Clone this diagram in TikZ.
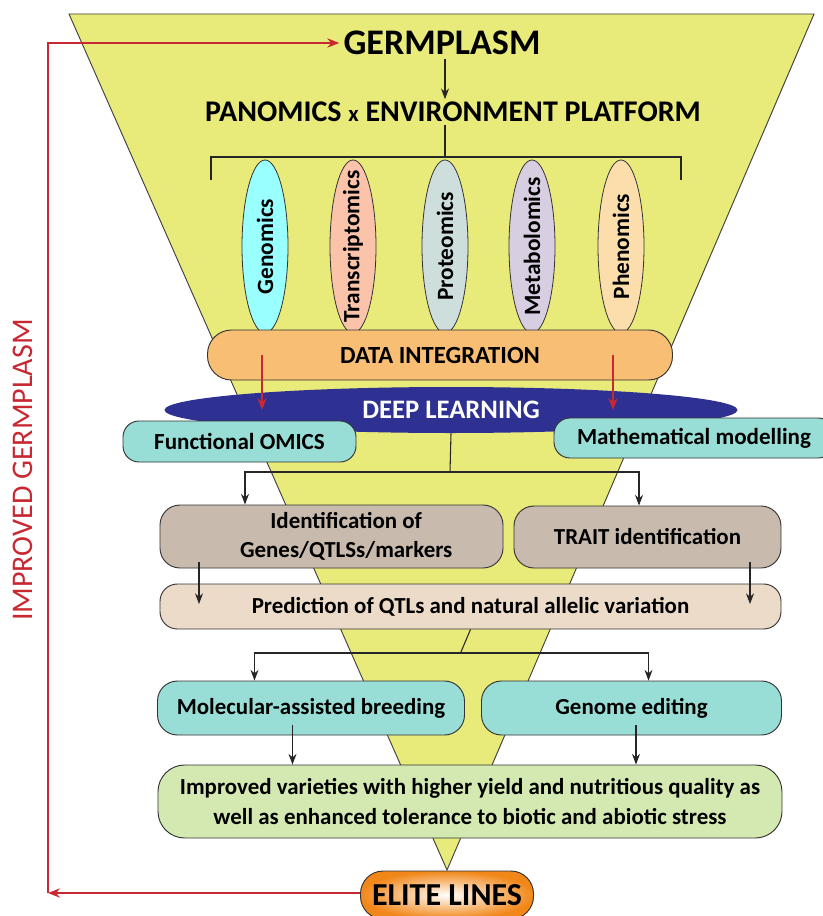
\documentclass[tikz,border=0pt]{standalone}
\usepackage{fontspec}
\setmainfont{Carlito}
\usetikzlibrary{arrows.meta,shapes.geometric,calc}
\definecolor{myyellow}{RGB}{232,234,122}
\definecolor{mycyan}{RGB}{153,255,255}
\definecolor{mysalmon}{RGB}{250,195,170}
\definecolor{mygrey}{RGB}{205,222,220}
\definecolor{mylilac}{RGB}{216,206,226}
\definecolor{mypeach}{RGB}{252,222,172}
\definecolor{myorange}{RGB}{248,190,115}
\definecolor{myblue}{RGB}{46,49,146}
\definecolor{myteal}{RGB}{152,221,214}
\definecolor{mytaupe}{RGB}{200,186,172}
\definecolor{mybeige}{RGB}{236,219,200}
\definecolor{mylime}{RGB}{212,232,178}
\definecolor{myelite}{RGB}{242,135,25}
\definecolor{myred}{RGB}{200,40,50}

\tikzset{
  omics/.style={ellipse, draw=black!80, line width=0.6pt, inner sep=0pt,
    minimum width=34.5pt, minimum height=129.75pt},
  omicstext/.style={rotate=90, inner sep=0pt, font=\bfseries\fontsize{17.5}{20}\selectfont},
  box/.style={draw=black!80, line width=0.7pt, rounded corners=15pt, align=center,
    font=\bfseries\fontsize{17.2}{22}\selectfont},
  arr/.style={-{Stealth[length=8pt,width=6pt]}, black!85, line width=0.8pt},
  redarr/.style={-{Stealth[length=9pt,width=7pt]}, myred, line width=1pt}
}

\begin{document}
\begin{tikzpicture}[x=0.75pt,y=-0.75pt]
\useasboundingbox (0,0) rectangle (823,916);

\fill[myyellow, draw=black!75, line width=0.7pt] (69,14) -- (814,14) -- (447,870) -- cycle;

\node[font=\bfseries\fontsize{27}{30}\selectfont, inner sep=3pt] (germ) at (442,43) {GERMPLASM};
\node[font=\bfseries\fontsize{22.5}{24}\selectfont, inner sep=2pt] (pan) at (453,112)
  {PANOMICS {\fontsize{17}{20}\selectfont x} ENVIRONMENT PLATFORM};
\coordinate (gdown) at (445,0);
\draw[arr] (gdown |- germ.south) -- (gdown |- pan.north);

\coordinate (brk) at (445,157);
\coordinate (brkL) at (211,180);
\coordinate (brkR) at (681,180);
\draw[black!85, line width=0.9pt] (brk |- pan.south) -- (brk);
\draw[black!85, line width=0.9pt] (brkL) |- (brk) -| (brkR);

\node[omics, fill=mycyan] (gen) at (265,246.5) {};
\node[omicstext] at (gen) {Genomics};
\node[omics, fill=mysalmon] (tra) at (353,246.5) {};
\node[omicstext] at (tra) {Transcriptomics};
\node[omics, fill=mygrey] (pro) at (445,246.5) {};
\node[omicstext] at (pro) {Proteomics};
\node[omics, fill=mylilac] (met) at (532,246.5) {};
\node[omicstext] at (met) {Metabolomics};
\node[omics, fill=mypeach] (phe) at (621,246.5) {};
\node[omicstext] at (phe) {Phenomics};

\node[box, fill=myorange, rounded corners=18pt, minimum width=348.75pt, minimum height=37.5pt,
  font=\bfseries\fontsize{18.5}{20}\selectfont] (data) at (440,355) {DATA INTEGRATION};

\node[ellipse, fill=myblue, text=white, minimum width=429.75pt, minimum height=34.5pt,
  font=\bfseries\fontsize{20}{22}\selectfont] (deep) at (451,410) {DEEP LEARNING};

\coordinate (rL) at (262,0);
\coordinate (rR) at (613,0);
\draw[redarr] (rL |- data.center) -- (rL |- deep.center);
\draw[redarr] (rR |- data.center) -- (rR |- deep.center);

\node[box, fill=myteal, rounded corners=12pt, minimum width=174.75pt, minimum height=30.75pt,
  font=\bfseries\fontsize{17.3}{20}\selectfont] (func) at (239.5,441.5) {Functional OMICS};
\node[box, fill=myteal, rounded corners=12pt, minimum width=210pt, minimum height=30pt,
  font=\bfseries\fontsize{17.3}{20}\selectfont] (math) at (694,438) {Mathematical modelling};

\node[box, fill=mytaupe, minimum width=257.25pt, minimum height=47.25pt] (ident) at (331.5,536.5)
  {\hspace*{22pt}Identification of\\\hspace*{22pt}Genes/QTLSs/markers};
\node[box, fill=mytaupe, minimum width=200.25pt, minimum height=46.5pt] (trait) at (647.5,537)
  {TRAIT identification};

\coordinate (dsplit) at (450,472);
\coordinate (dsL) at (245,0);
\coordinate (dsR) at (639,0);
\draw[black!85, line width=0.8pt] (deep.south) -- (dsplit);
\draw[arr] (dsplit) -| (dsL |- ident.north);
\draw[arr] (dsplit) -| (dsR |- trait.north);

\node[box, fill=mybeige, rounded corners=13pt, minimum width=465.75pt, minimum height=33.75pt] (pred) at (470.5,606.5)
  {Prediction of QTLs and natural allelic variation};

\coordinate (pL) at (199,604);
\coordinate (pR) at (750,604);
\draw[arr] ([yshift=4.5pt]ident.south -| pL) -- (pL);
\draw[arr] ([yshift=4.5pt]trait.south -| pR) -- (pR);

\node[box, fill=myteal, minimum width=230.25pt, minimum height=40.5pt] (mol) at (311,708)
  {Molecular-assisted breeding};
\node[box, fill=myteal, minimum width=225pt, minimum height=40.5pt] (gedit) at (631.5,708)
  {Genome editing};

\coordinate (psplit) at (460.5,653);
\coordinate (psL) at (254.5,0);
\coordinate (psR) at (648.5,0);
\draw[black!85, line width=0.8pt] (pred.south) -- (psplit);
\draw[arr] (psplit) -| (psL |- mol.north);
\draw[arr] (psplit) -| (psR |- gedit.north);

\node[box, fill=mylime, rounded corners=20pt, minimum width=468pt, minimum height=54.75pt] (impr) at (470,801.5)
  {Improved varieties with higher yield and nutritious quality as\\well as enhanced tolerance to biotic and abiotic stress};

\coordinate (iL) at (292.5,0);
\coordinate (iR) at (636,0);
\draw[arr] ([yshift=7.5pt]mol.south -| iL) -- (iL |- impr.north);
\draw[arr] ([yshift=7.5pt]gedit.south -| iR) -- (iR |- impr.north);

\node[draw=black!80, line width=0.7pt, rounded corners=17pt, minimum width=129.75pt, minimum height=36pt,
  inner color=white, outer color=myelite, font=\bfseries\fontsize{24}{26}\selectfont] (elite) at (447,895) {ELITE LINES};

\coordinate (fb) at (48,893);
\draw[redarr] (elite.west |- fb) -- (fb);
\draw[redarr] (fb) |- (germ.west);

\node[rotate=90, text=myred, font=\fontsize{22.5}{24}\selectfont] (impg) at (22.5,470) {IMPROVED GERMPLASM};
\end{tikzpicture}
\end{document}
